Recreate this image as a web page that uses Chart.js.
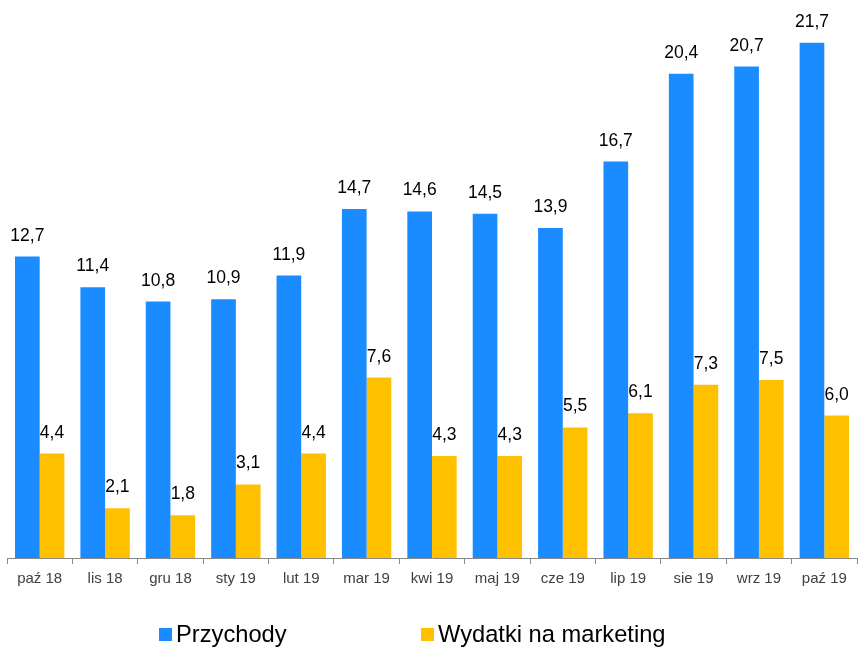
<!DOCTYPE html>
<html>
<head>
<meta charset="utf-8">
<script src="https://cdn.jsdelivr.net/npm/chart.js@4"></script>
<style>
html,body{margin:0;padding:0;background:#fff;}
#wrap{position:relative;width:858px;height:647px;}
</style>
</head>
<body>
<div id="wrap"><canvas id="c"></canvas></div>
<script>
const categories = ['paź 18','lis 18','gru 18','sty 19','lut 19','mar 19','kwi 19','maj 19','cze 19','lip 19','sie 19','wrz 19','paź 19'];
const revenue = [12.7,11.4,10.8,10.9,11.9,14.7,14.6,14.5,13.9,16.7,20.4,20.7,21.7];
const marketing = [4.4,2.1,1.8,3.1,4.4,7.6,4.3,4.3,5.5,6.1,7.3,7.5,6.0];
const seriesNames = ['Przychody','Wydatki na marketing'];
const seriesColors = ['#1a8cff','#ffc000'];

const fmt = v => v.toFixed(1).replace('.', ',');

const labelPlugin = {
  id: 'valueLabels',
  afterDatasetsDraw(chart) {
    const ctx = chart.ctx;
    ctx.save();
    ctx.font = '17.5px "Liberation Sans", Arial, sans-serif';
    ctx.fillStyle = '#000';
    ctx.textAlign = 'center';
    ctx.textBaseline = 'alphabetic';
    chart.data.datasets.forEach((ds, i) => {
      const meta = chart.getDatasetMeta(i);
      meta.data.forEach((bar, j) => {
        ctx.fillText(fmt(ds.data[j]), bar.x, bar.y - 16);
      });
    });
    ctx.restore();
  }
};

const legendPlugin = {
  id: 'customLegend',
  afterDraw(chart) {
    const ctx = chart.ctx;
    ctx.save();
    ctx.font = '23.7px "Liberation Sans", Arial, sans-serif';
    ctx.textBaseline = 'alphabetic';
    ctx.textAlign = 'left';
    const xs = [159, 421];
    chart.data.datasets.forEach((ds, i) => {
      ctx.fillStyle = ds.backgroundColor;
      ctx.fillRect(xs[i], 628, 13, 13);
      ctx.fillStyle = '#000';
      ctx.fillText(ds.label, xs[i] + 17, 642);
    });
    ctx.restore();
  }
};

new Chart(document.getElementById('c'), {
  type: 'bar',
  data: {
    labels: categories,
    datasets: [
      { label: seriesNames[0], data: revenue, backgroundColor: seriesColors[0] },
      { label: seriesNames[1], data: marketing, backgroundColor: seriesColors[1] }
    ]
  },
  options: {
    responsive: true,
    maintainAspectRatio: false,
    animation: false,
    layout: { padding: { left: 7, right: 1, top: 12, bottom: 53 } },
    datasets: { bar: { categoryPercentage: 0.755, barPercentage: 1.0 } },
    plugins: { legend: { display: false }, tooltip: { enabled: false } },
    scales: {
      x: {
        grid: { display: true, drawOnChartArea: false, offset: true, tickLength: 6, color: '#888', lineWidth: 1 },
        border: { display: true, color: '#888', width: 1 },
        ticks: { color: '#404040', font: { size: 15, family: '"Liberation Sans", Arial, sans-serif' }, padding: 6, maxRotation: 0 }
      },
      y: {
        display: false,
        min: 0,
        max: 23
      }
    }
  },
  plugins: [labelPlugin, legendPlugin]
});
</script>
</body>
</html>
